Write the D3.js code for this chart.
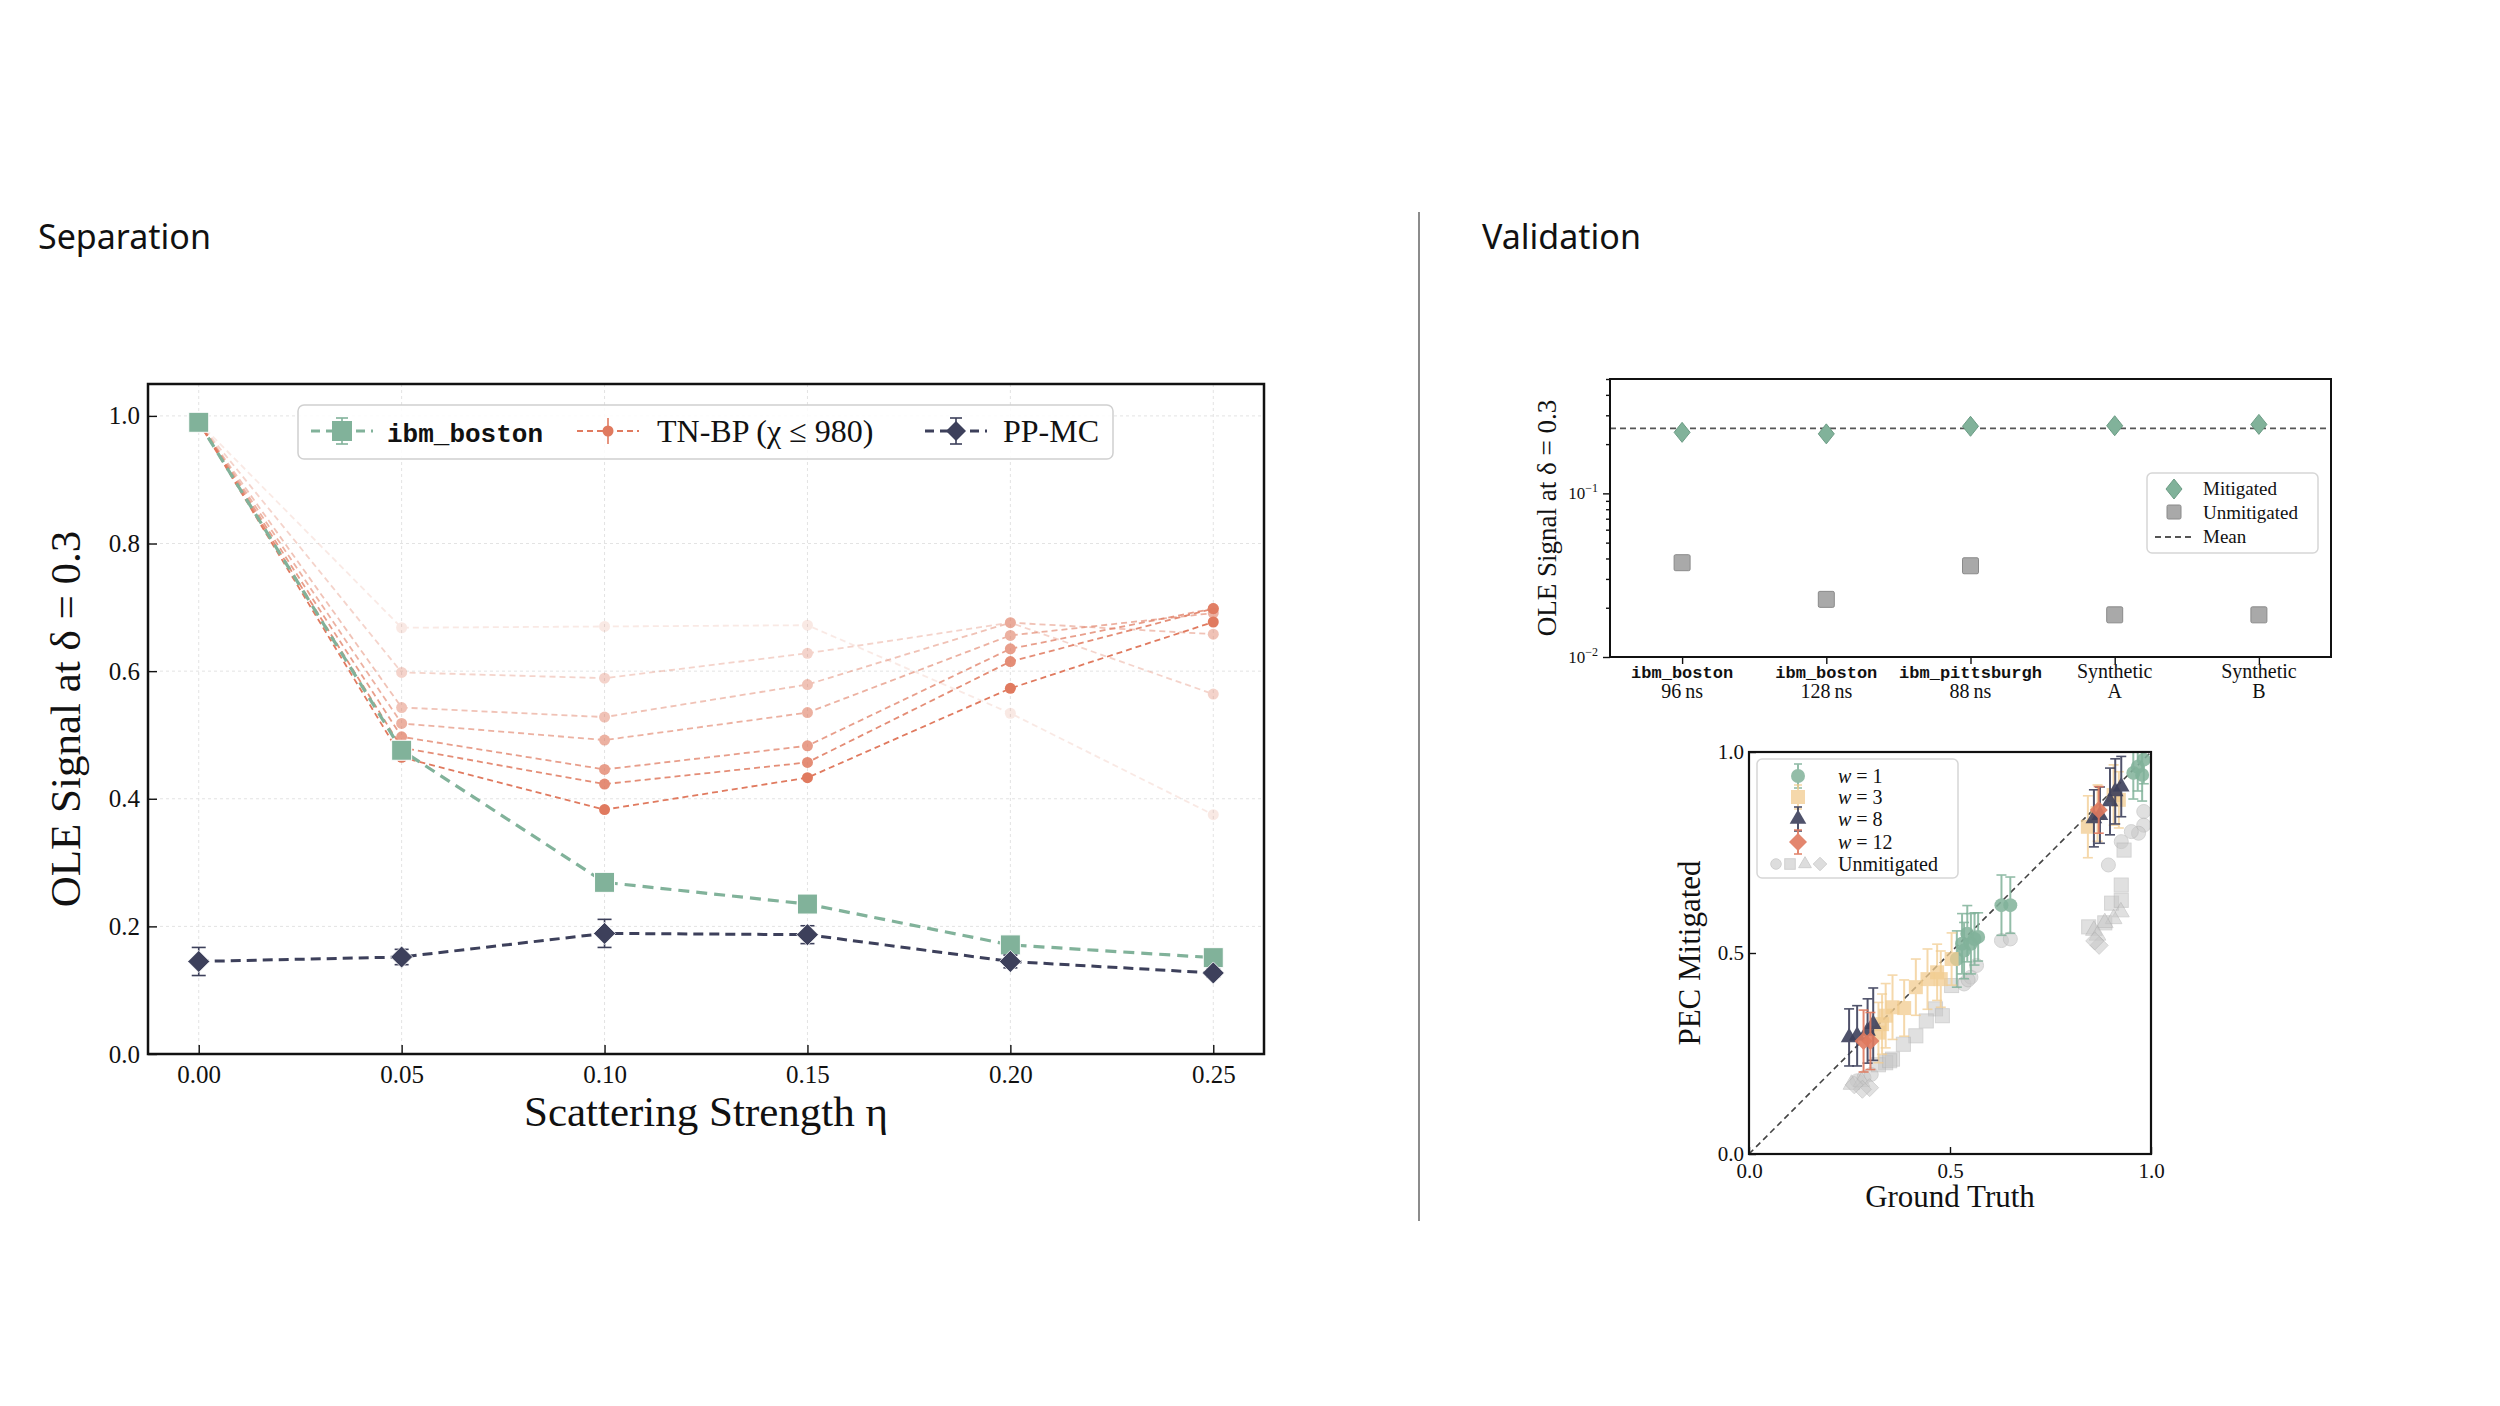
<!DOCTYPE html>
<html>
<head>
<meta charset="utf-8">
<script src="https://cdn.jsdelivr.net/npm/d3@7"></script>
<style>
  body { margin: 0; background: #fff; }
  svg { display: block; }
</style>
</head>
<body>
<div id="fig"></div>
<script>
// ---------- Separation panel data ----------
var eta = [0, 0.05, 0.10, 0.15, 0.20, 0.25];
var signalTicks = [0, 0.2, 0.4, 0.6, 0.8, 1.0];
var bostonSignal = [0.99, 0.476, 0.269, 0.235, 0.171, 0.151];
var ppmcSignal = [0.145, 0.152, 0.189, 0.187, 0.145, 0.127];
var ppmcErr = [0.022, 0.012, 0.022, 0.014, 0.010, 0.006];
// TN-BP runs, from the largest bond dimension (darkest) to the smallest (faintest)
var tnbpSignal = [
    [0.99, 0.465, 0.383, 0.433, 0.573, 0.677],
    [0.99, 0.480, 0.423, 0.457, 0.615, 0.698],
    [0.99, 0.497, 0.446, 0.483, 0.635, 0.698],
    [0.99, 0.518, 0.492, 0.535, 0.656, 0.691],
    [0.99, 0.543, 0.528, 0.579, 0.676, 0.658],
    [0.99, 0.598, 0.589, 0.628, 0.676, 0.564],
    [0.99, 0.668, 0.670, 0.672, 0.534, 0.375]
];
var seriesNames = ["ibm_boston", "TN-BP (\u03c7 \u2264 980)", "PP-MC"];

// ---------- Validation panel data (top) ----------
var deviceNames = ["ibm_boston", "ibm_boston", "ibm_pittsburgh", "Synthetic", "Synthetic"];
var deviceSubs = ["96\u2009ns", "128\u2009ns", "88\u2009ns", "A", "B"];
var deviceMono = [true, true, true, false, false];
var mitigated = [0.236, 0.231, 0.257, 0.259, 0.264];
var unmitigated = [0.0377, 0.0225, 0.0361, 0.0181, 0.0181];
var logMajor = [0.01, 0.1];
var logMinor = [0.02, 0.03, 0.04, 0.05, 0.06, 0.07, 0.08, 0.09, 0.2, 0.3, 0.4, 0.5];

// ---------- Validation panel data (bottom): [ground truth, PEC mitigated, error] ----------
var w1Points = [[0.982,0.981,0.06],[0.956,0.948,0.065],[0.978,0.943,0.065],[0.967,0.963,0.06],
    [0.628,0.619,0.075],[0.650,0.619,0.07],[0.517,0.485,0.07],[0.530,0.523,0.075],[0.535,0.506,0.07],
    [0.543,0.548,0.07],[0.552,0.523,0.075],[0.561,0.535,0.065],[0.570,0.540,0.06]];
var w3Points = [[0.843,0.814,0.077],[0.867,0.848,0.07],[0.907,0.893,0.075],[0.920,0.881,0.07],
    [0.322,0.302,0.075],[0.331,0.323,0.075],[0.340,0.344,0.08],[0.357,0.365,0.08],[0.386,0.363,0.07],
    [0.415,0.415,0.07],[0.444,0.435,0.075],[0.468,0.452,0.07],[0.477,0.435,0.07],[0.504,0.485,0.065]];
var w8Points = [[0.858,0.835,0.071],[0.873,0.843,0.07],[0.898,0.877,0.083],[0.911,0.902,0.081],
    [0.926,0.914,0.075],[0.249,0.290,0.071],[0.269,0.294,0.075],[0.295,0.306,0.08],[0.309,0.323,0.09]];
var w12Points = [[0.870,0.856,0.058],[0.285,0.281,0.077],[0.302,0.281,0.071]];
var unmitCircles = [[0.982,0.852],[0.982,0.818],[0.969,0.798],[0.951,0.802],[0.926,0.777],[0.894,0.719],
    [0.628,0.531],[0.650,0.535],[0.535,0.423],[0.552,0.440],[0.566,0.469],[0.545,0.433],
    [0.269,0.182],[0.286,0.190],[0.304,0.198]];
var unmitSquares = [[0.933,0.756],[0.926,0.669],[0.902,0.624],[0.926,0.631],[0.845,0.565],[0.885,0.575],
    [0.504,0.419],[0.464,0.361],[0.481,0.344],[0.441,0.331],[0.415,0.294],[0.384,0.273],
    [0.357,0.236],[0.340,0.227],[0.322,0.222],[0.350,0.232]];
var unmitTriangles = [[0.925,0.602],[0.907,0.585],[0.885,0.575],[0.858,0.556],[0.867,0.544],[0.255,0.173],[0.280,0.180]];
var unmitDiamonds = [[0.871,0.519],[0.860,0.530],[0.300,0.165],[0.282,0.161],[0.262,0.172]];
var widthLabels = ["1", "3", "8", "12"];
var unitTicks = [0, 0.5, 1.0];

// ---------- styling ----------
var green = "#81B29A", coral = "#E07A5F", navy = "#3D405B", yellow = "#F2CC8F";
var serif = "'Liberation Serif', 'DejaVu Serif', serif";
var mono = "'Liberation Mono', 'DejaVu Sans Mono', monospace";
var sans = "'Noto Sans', 'Open Sans', sans-serif";

var svg = d3.select("#fig").append("svg")
    .attr("width", 2500)
    .attr("height", 1406);

svg.append("rect").attr("width", 2500).attr("height", 1406).attr("fill", "#fff");

svg.append("text").attr("x", 38).attr("y", 249)
    .attr("font-family", sans).attr("font-size", 34).attr("fill", "#111").text("Separation");
svg.append("text").attr("x", 1482).attr("y", 249)
    .attr("font-family", sans).attr("font-size", 34).attr("fill", "#111").text("Validation");
svg.append("line").attr("x1", 1419).attr("x2", 1419).attr("y1", 212).attr("y2", 1221)
    .attr("stroke", "#666").attr("stroke-width", 1.5);

function styleAxis(sel, fs, fam) {
    sel.select(".domain").remove();
    sel.selectAll("text").attr("font-family", fam || serif).attr("font-size", fs).attr("fill", "#111");
    sel.selectAll("line").attr("stroke", "#111").attr("stroke-width", 1.4);
}
var diamondPath = function(hw, hh) {
    return "M0," + (-hh) + "L" + hw + ",0L0," + hh + "L" + (-hw) + ",0Z";
};

// =========================== Separation ===========================
var g1 = svg.append("g");
var x1 = d3.scaleLinear().domain([-0.0125, 0.2625]).range([148, 1264]);
var y1 = d3.scaleLinear().domain([0, 1.05]).range([1054, 384]);

g1.selectAll(".gx").data(eta).enter().append("line")
    .attr("x1", function(d){ return x1(d); }).attr("x2", function(d){ return x1(d); })
    .attr("y1", 384).attr("y2", 1054)
    .attr("stroke", "#e3e3e3").attr("stroke-dasharray", "3,3");
g1.selectAll(".gy").data(signalTicks).enter().append("line")
    .attr("y1", function(d){ return y1(d); }).attr("y2", function(d){ return y1(d); })
    .attr("x1", 148).attr("x2", 1264)
    .attr("stroke", "#e3e3e3").attr("stroke-dasharray", "3,3");

g1.append("g").attr("transform", "translate(0,1054)")
    .call(d3.axisBottom(x1).tickValues(eta).tickFormat(d3.format(".2f"))
        .tickSizeInner(-9).tickSizeOuter(0).tickPadding(11))
    .call(styleAxis, 25);
g1.append("g").attr("transform", "translate(148,0)")
    .call(d3.axisLeft(y1).tickValues(signalTicks).tickFormat(d3.format(".1f"))
        .tickSizeInner(-9).tickSizeOuter(0).tickPadding(8))
    .call(styleAxis, 25);

var line1 = d3.line().x(function(d, i){ return x1(eta[i]); }).y(function(d){ return y1(d); });
var tnOpacity = [1.0, 0.85, 0.72, 0.58, 0.45, 0.32, 0.16];

for (var k = tnbpSignal.length - 1; k >= 0; k--) {
    var run = g1.append("g").attr("opacity", tnOpacity[k]);
    run.append("path").datum(tnbpSignal[k]).attr("d", line1)
        .attr("fill", "none").attr("stroke", coral).attr("stroke-width", 1.8)
        .attr("stroke-dasharray", "6,4");
    run.selectAll("circle").data(tnbpSignal[k]).enter().append("circle")
        .attr("cx", function(d, i){ return x1(eta[i]); })
        .attr("cy", function(d){ return y1(d); })
        .attr("r", 5.5).attr("fill", coral);
}

// ibm_boston
g1.append("path").datum(bostonSignal).attr("d", line1)
    .attr("fill", "none").attr("stroke", green).attr("stroke-width", 3.2)
    .attr("stroke-dasharray", "11,7");
g1.selectAll(".bsq").data(bostonSignal).enter().append("rect")
    .attr("x", function(d, i){ return x1(eta[i]) - 10; })
    .attr("y", function(d){ return y1(d) - 10; })
    .attr("width", 20).attr("height", 20)
    .attr("fill", green).attr("stroke", "#fff").attr("stroke-width", 1);

// PP-MC
g1.append("path").datum(ppmcSignal).attr("d", line1)
    .attr("fill", "none").attr("stroke", navy).attr("stroke-width", 3)
    .attr("stroke-dasharray", "10,6");
var pp = g1.selectAll(".pp").data(ppmcSignal).enter().append("g")
    .attr("transform", function(d, i){ return "translate(" + x1(eta[i]) + "," + y1(d) + ")"; });
pp.append("line").attr("y1", function(d, i){ return y1(d + ppmcErr[i]) - y1(d); })
    .attr("y2", function(d, i){ return y1(d - ppmcErr[i]) - y1(d); })
    .attr("stroke", navy).attr("stroke-width", 1.6);
[1, -1].forEach(function(sg) {
    pp.append("line").attr("x1", -7).attr("x2", 7)
        .attr("y1", function(d, i){ return y1(d + sg * ppmcErr[i]) - y1(d); })
        .attr("y2", function(d, i){ return y1(d + sg * ppmcErr[i]) - y1(d); })
        .attr("stroke", navy).attr("stroke-width", 1.6);
});
pp.append("path").attr("d", diamondPath(11, 11)).attr("fill", navy)
    .attr("stroke", "#fff").attr("stroke-width", 0.8);

g1.append("rect").attr("x", 148).attr("y", 384).attr("width", 1116).attr("height", 670)
    .attr("fill", "none").attr("stroke", "#111").attr("stroke-width", 2.5);

// legend
var leg1 = g1.append("g");
leg1.append("rect").attr("x", 298).attr("y", 405).attr("width", 815).attr("height", 54).attr("rx", 6)
    .attr("fill", "#fff").attr("fill-opacity", 0.85).attr("stroke", "#d0d0d0").attr("stroke-width", 1.5);
var legY = 431;
var handleX = [311, 577, 925];
var textX = [387, 657, 1003];
var handleColor = [green, coral, navy];
handleX.forEach(function(hx, i) {
    var h = leg1.append("g").attr("transform", "translate(" + (hx + 31) + "," + legY + ")");
    h.append("line").attr("x1", -31).attr("x2", 31)
        .attr("stroke", handleColor[i]).attr("stroke-width", i === 1 ? 1.8 : 3)
        .attr("stroke-dasharray", i === 1 ? "6,4" : "9,6");
    h.append("line").attr("y1", -13).attr("y2", 13).attr("stroke", handleColor[i]).attr("stroke-width", 1.6);
    if (i !== 1) {
        h.append("line").attr("x1", -6).attr("x2", 6).attr("y1", -13).attr("y2", -13).attr("stroke", handleColor[i]).attr("stroke-width", 1.6);
        h.append("line").attr("x1", -6).attr("x2", 6).attr("y1", 13).attr("y2", 13).attr("stroke", handleColor[i]).attr("stroke-width", 1.6);
    }
    if (i === 0) h.append("rect").attr("x", -10).attr("y", -10).attr("width", 20).attr("height", 20).attr("fill", green);
    if (i === 1) h.append("circle").attr("r", 5.5).attr("fill", coral);
    if (i === 2) h.append("path").attr("d", diamondPath(10, 10)).attr("fill", navy);
    leg1.append("text").attr("x", textX[i]).attr("y", legY + 11)
        .attr("font-family", i === 0 ? mono : serif)
        .attr("font-weight", i === 0 ? "bold" : "normal")
        .attr("font-size", i === 0 ? 26 : 32).attr("fill", "#111")
        .text(seriesNames[i]);
});

g1.append("text").attr("transform", "translate(80,719) rotate(-90)")
    .attr("text-anchor", "middle").attr("font-family", serif).attr("font-size", 43).attr("fill", "#111")
    .text("OLE Signal at \u03b4 = 0.3");
g1.append("text").attr("x", 706).attr("y", 1126)
    .attr("text-anchor", "middle").attr("font-family", serif).attr("font-size", 43).attr("fill", "#111")
    .text("Scattering Strength \u03b7");

// =========================== Validation: per device ===========================
var g2 = svg.append("g");
var xR = d3.scalePoint().domain(d3.range(deviceNames.length)).range([1610, 2331]).padding(0.5);
var yR = d3.scaleLog().domain([0.01, 0.5]).range([657, 379]);

g2.append("g").attr("transform", "translate(0,657)")
    .call(d3.axisBottom(xR).tickFormat("").tickSizeInner(7).tickSizeOuter(0))
    .call(styleAxis, 18);
var lab = g2.selectAll(".dl").data(deviceNames).enter().append("text")
    .attr("text-anchor", "middle").attr("fill", "#111")
    .attr("x", function(d, i){ return xR(i); }).attr("y", 678);
lab.append("tspan").attr("x", function(d, i){ return xR(i); })
    .attr("font-family", function(d, i){ return deviceMono[i] ? mono : serif; })
    .attr("font-size", function(d, i){ return deviceMono[i] ? 17 : 20; })
    .attr("font-weight", function(d, i){ return deviceMono[i] ? "bold" : "normal"; })
    .text(function(d){ return d; });
lab.append("tspan").attr("x", function(d, i){ return xR(i); }).attr("dy", 20)
    .attr("font-family", serif).attr("font-size", 20)
    .text(function(d, i){ return deviceSubs[i]; });

g2.append("g").attr("transform", "translate(1610,0)")
    .call(d3.axisLeft(yR).tickValues(logMajor).tickFormat("").tickSizeInner(7).tickSizeOuter(0))
    .call(styleAxis, 16);
g2.append("g").attr("transform", "translate(1610,0)")
    .call(d3.axisLeft(yR).tickValues(logMinor).tickFormat("").tickSizeInner(4).tickSizeOuter(0))
    .call(styleAxis, 16);
var lt = g2.selectAll(".lt").data(logMajor).enter().append("text")
    .attr("x", 1598).attr("y", function(d){ return yR(d) + 6; })
    .attr("text-anchor", "end").attr("font-family", serif).attr("font-size", 17).attr("fill", "#111");
lt.append("tspan").text("10");
lt.append("tspan").attr("dy", -7).attr("font-size", 12)
    .text(function(d){ return "\u2212" + Math.round(-Math.log10(d)); });

var meanSignal = d3.mean(mitigated);
g2.append("line").attr("x1", 1610).attr("x2", 2331)
    .attr("y1", yR(meanSignal)).attr("y2", yR(meanSignal))
    .attr("stroke", "#555").attr("stroke-width", 1.8).attr("stroke-dasharray", "6,4");
g2.selectAll(".um").data(unmitigated).enter().append("rect")
    .attr("x", function(d, i){ return xR(i) - 8; }).attr("y", function(d){ return yR(d) - 8; })
    .attr("width", 16).attr("height", 16).attr("rx", 1.5)
    .attr("fill", "#a9a9a9").attr("stroke", "#8a8a8a").attr("stroke-width", 1);
g2.selectAll(".mi").data(mitigated).enter().append("path")
    .attr("transform", function(d, i){ return "translate(" + xR(i) + "," + yR(d) + ")"; })
    .attr("d", diamondPath(8, 10))
    .attr("fill", green).attr("stroke", "#6c9c85").attr("stroke-width", 1);

g2.append("rect").attr("x", 1610).attr("y", 379).attr("width", 721).attr("height", 278)
    .attr("fill", "none").attr("stroke", "#111").attr("stroke-width", 2);

var leg2 = g2.append("g");
leg2.append("rect").attr("x", 2147).attr("y", 473).attr("width", 171).attr("height", 80).attr("rx", 5)
    .attr("fill", "#fff").attr("stroke", "#d6d6d6").attr("stroke-width", 1.5);
leg2.append("path").attr("transform", "translate(2174,489)").attr("d", diamondPath(8, 10))
    .attr("fill", green).attr("stroke", "#6c9c85");
leg2.append("rect").attr("x", 2167).attr("y", 505).attr("width", 14).attr("height", 14).attr("rx", 1.5)
    .attr("fill", "#a9a9a9").attr("stroke", "#8a8a8a");
leg2.append("line").attr("x1", 2155).attr("x2", 2193).attr("y1", 537).attr("y2", 537)
    .attr("stroke", "#555").attr("stroke-width", 1.8).attr("stroke-dasharray", "6,4");
["Mitigated", "Unmitigated", "Mean"].forEach(function(t, i) {
    leg2.append("text").attr("x", 2203).attr("y", 495 + i * 24)
        .attr("font-family", serif).attr("font-size", 19).attr("fill", "#111").text(t);
});

g2.append("text").attr("transform", "translate(1556,518) rotate(-90)")
    .attr("text-anchor", "middle").attr("font-family", serif).attr("font-size", 27).attr("fill", "#111")
    .text("OLE Signal at \u03b4 = 0.3");

// =========================== Validation: PEC vs truth ===========================
var g3 = svg.append("g");
var xB = d3.scaleLinear().domain([0, 1]).range([1749, 2151]);
var yB = d3.scaleLinear().domain([0, 1]).range([1154, 752]);

svg.append("clipPath").attr("id", "pecClip").append("rect")
    .attr("x", 1749).attr("y", 752).attr("width", 402).attr("height", 402);

g3.append("g").attr("transform", "translate(0,1154)")
    .call(d3.axisBottom(xB).tickValues(unitTicks).tickFormat(d3.format(".1f"))
        .tickSizeInner(-7).tickSizeOuter(0).tickPadding(9))
    .call(styleAxis, 21);
g3.append("g").attr("transform", "translate(1749,0)")
    .call(d3.axisLeft(yB).tickValues(unitTicks).tickFormat(d3.format(".1f"))
        .tickSizeInner(-7).tickSizeOuter(0).tickPadding(5))
    .call(styleAxis, 21);

var plot3 = g3.append("g").attr("clip-path", "url(#pecClip)");
plot3.append("line").attr("x1", xB(0)).attr("y1", yB(0)).attr("x2", xB(1)).attr("y2", yB(1))
    .attr("stroke", "#444").attr("stroke-width", 1.6).attr("stroke-dasharray", "6,4");

var symTri = d3.symbol().type(d3.symbolTriangle).size(120)();
var symTriSmall = d3.symbol().type(d3.symbolTriangle).size(70)();
function marker(sel, kind, color, s) {
    if (kind === "circle") sel.append("circle").attr("r", 7 * s).attr("fill", color);
    if (kind === "square") sel.append("rect").attr("x", -7 * s).attr("y", -7 * s)
        .attr("width", 14 * s).attr("height", 14 * s).attr("fill", color);
    if (kind === "triangle") sel.append("path").attr("d", s < 1 ? symTriSmall : symTri).attr("fill", color);
    if (kind === "diamond") sel.append("path").attr("d", diamondPath(9 * s, 9 * s)).attr("fill", color);
}

var unmitSets = [[unmitCircles, "circle"], [unmitSquares, "square"], [unmitTriangles, "triangle"], [unmitDiamonds, "diamond"]];
unmitSets.forEach(function(set) {
    var pts = plot3.selectAll(".u-" + set[1]).data(set[0]).enter().append("g")
        .attr("transform", function(d){ return "translate(" + xB(d[0]) + "," + yB(d[1]) + ")"; })
        .attr("opacity", 0.55);
    pts.each(function() {
        var sel = d3.select(this);
        marker(sel, set[1], "#c8c8c8", 1);
        sel.select("*").attr("stroke", "#b0b0b0").attr("stroke-width", 1);
    });
});

var pecSets = [[w1Points, "circle", green, 0.85], [w3Points, "square", yellow, 0.75],
               [w8Points, "triangle", navy, 0.9], [w12Points, "diamond", coral, 0.9]];
pecSets.forEach(function(set) {
    var pts = plot3.selectAll(".p-" + set[1]).data(set[0]).enter().append("g")
        .attr("transform", function(d){ return "translate(" + xB(d[0]) + "," + yB(d[1]) + ")"; })
        .attr("opacity", set[3]);
    pts.append("line").attr("y1", function(d){ return yB(d[1] + d[2]) - yB(d[1]); })
        .attr("y2", function(d){ return yB(d[1] - d[2]) - yB(d[1]); })
        .attr("stroke", set[2]).attr("stroke-width", 2);
    [1, -1].forEach(function(sg) {
        pts.append("line").attr("x1", -5).attr("x2", 5)
            .attr("y1", function(d){ return yB(d[1] + sg * d[2]) - yB(d[1]); })
            .attr("y2", function(d){ return yB(d[1] + sg * d[2]) - yB(d[1]); })
            .attr("stroke", set[2]).attr("stroke-width", 1.6);
    });
    pts.each(function() { marker(d3.select(this), set[1], set[2], 1); });
});

g3.append("rect").attr("x", 1749).attr("y", 752).attr("width", 402).attr("height", 402)
    .attr("fill", "none").attr("stroke", "#111").attr("stroke-width", 2.2);

var leg3 = g3.append("g");
leg3.append("rect").attr("x", 1757).attr("y", 759).attr("width", 201).attr("height", 119).attr("rx", 5)
    .attr("fill", "#fff").attr("fill-opacity", 0.9).attr("stroke", "#d6d6d6").attr("stroke-width", 1.5);
var legRows = [776, 797, 819, 842];
pecSets.forEach(function(set, i) {
    var h = leg3.append("g").attr("transform", "translate(1798," + legRows[i] + ")").attr("opacity", set[3]);
    h.append("line").attr("y1", -12).attr("y2", 12).attr("stroke", set[2]).attr("stroke-width", 2);
    h.append("line").attr("x1", -4).attr("x2", 4).attr("y1", -12).attr("y2", -12).attr("stroke", set[2]).attr("stroke-width", 1.6);
    h.append("line").attr("x1", -4).attr("x2", 4).attr("y1", 12).attr("y2", 12).attr("stroke", set[2]).attr("stroke-width", 1.6);
    marker(h, set[1], set[2], 1);
    var t = leg3.append("text").attr("x", 1838).attr("y", legRows[i] + 7)
        .attr("font-family", serif).attr("font-size", 20).attr("fill", "#111");
    t.append("tspan").attr("font-style", "italic").text("w");
    t.append("tspan").text(" = " + widthLabels[i]);
});
var unmitLegX = [1776, 1790, 1805, 1820];
unmitSets.forEach(function(set, i) {
    var h = leg3.append("g").attr("transform", "translate(" + unmitLegX[i] + ",864)").attr("opacity", 0.6);
    marker(h, set[1], "#c8c8c8", 0.75);
    h.select("*").attr("stroke", "#b0b0b0");
});
leg3.append("text").attr("x", 1838).attr("y", 871)
    .attr("font-family", serif).attr("font-size", 20).attr("fill", "#111").text("Unmitigated");

g3.append("text").attr("transform", "translate(1700,953) rotate(-90)")
    .attr("text-anchor", "middle").attr("font-family", serif).attr("font-size", 31).attr("fill", "#111")
    .text("PEC Mitigated");
g3.append("text").attr("x", 1950).attr("y", 1207)
    .attr("text-anchor", "middle").attr("font-family", serif).attr("font-size", 31).attr("fill", "#111")
    .text("Ground Truth");
</script>
</body>
</html>
